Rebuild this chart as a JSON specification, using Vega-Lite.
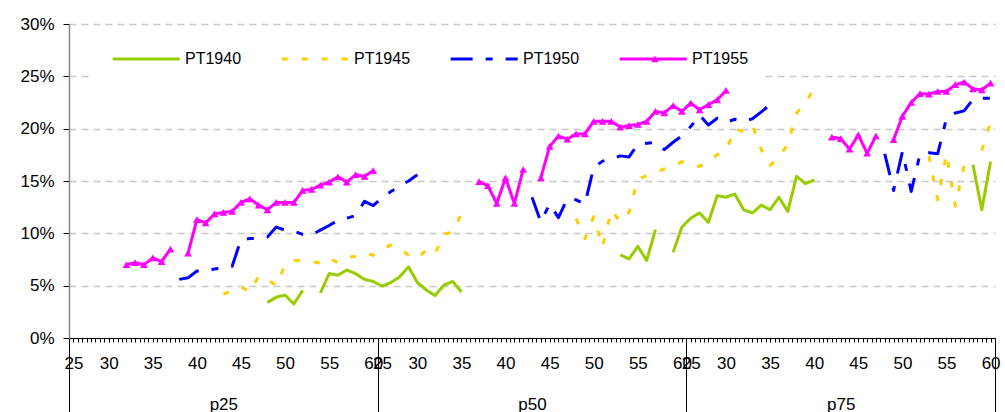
{
 "$schema": "https://vega.github.io/schema/vega-lite/v6.json",
 "width": 926,
 "height": 314,
 "autosize": {"type": "none"},
 "padding": {"left": 69, "top": 24, "right": 10, "bottom": 74},
 "background": "#ffffff",
 "config": {
  "view": {"stroke": null},
  "font": "Liberation Sans",
  "axis": {"labelFont": "Liberation Sans", "labelFontSize": 17, "labelColor": "#000000", "title": null},
  "legend": {"labelFont": "Liberation Sans"}
 },
 "data": {"values": [
  {"series":"PT1940","panel":"p25","age":48,"value":3.4},
  {"series":"PT1940","panel":"p25","age":49,"value":3.9},
  {"series":"PT1940","panel":"p25","age":50,"value":4.1},
  {"series":"PT1940","panel":"p25","age":51,"value":3.25},
  {"series":"PT1940","panel":"p25","age":52,"value":4.55},
  {"series":"PT1940","panel":"p25","age":53,"value":null},
  {"series":"PT1940","panel":"p25","age":54,"value":4.3},
  {"series":"PT1940","panel":"p25","age":55,"value":6.15},
  {"series":"PT1940","panel":"p25","age":56,"value":6.0},
  {"series":"PT1940","panel":"p25","age":57,"value":6.5},
  {"series":"PT1940","panel":"p25","age":58,"value":6.15},
  {"series":"PT1940","panel":"p25","age":59,"value":5.6},
  {"series":"PT1940","panel":"p25","age":60,"value":5.4},
  {"series":"PT1940","panel":"p50","age":26,"value":4.95},
  {"series":"PT1940","panel":"p50","age":27,"value":5.3},
  {"series":"PT1940","panel":"p50","age":28,"value":5.85},
  {"series":"PT1940","panel":"p50","age":29,"value":6.8},
  {"series":"PT1940","panel":"p50","age":30,"value":5.3},
  {"series":"PT1940","panel":"p50","age":31,"value":4.6},
  {"series":"PT1940","panel":"p50","age":32,"value":4.05},
  {"series":"PT1940","panel":"p50","age":33,"value":5.05},
  {"series":"PT1940","panel":"p50","age":34,"value":5.4},
  {"series":"PT1940","panel":"p50","age":35,"value":4.4},
  {"series":"PT1940","panel":"p50","age":36,"value":null},
  {"series":"PT1940","panel":"p50","age":53,"value":7.95},
  {"series":"PT1940","panel":"p50","age":54,"value":7.55},
  {"series":"PT1940","panel":"p50","age":55,"value":8.75},
  {"series":"PT1940","panel":"p50","age":56,"value":7.4},
  {"series":"PT1940","panel":"p50","age":57,"value":10.35},
  {"series":"PT1940","panel":"p50","age":58,"value":null},
  {"series":"PT1940","panel":"p50","age":59,"value":8.2},
  {"series":"PT1940","panel":"p50","age":60,"value":10.6},
  {"series":"PT1940","panel":"p75","age":26,"value":11.45},
  {"series":"PT1940","panel":"p75","age":27,"value":11.95},
  {"series":"PT1940","panel":"p75","age":28,"value":11.05},
  {"series":"PT1940","panel":"p75","age":29,"value":13.6},
  {"series":"PT1940","panel":"p75","age":30,"value":13.45},
  {"series":"PT1940","panel":"p75","age":31,"value":13.75},
  {"series":"PT1940","panel":"p75","age":32,"value":12.25},
  {"series":"PT1940","panel":"p75","age":33,"value":11.95},
  {"series":"PT1940","panel":"p75","age":34,"value":12.7},
  {"series":"PT1940","panel":"p75","age":35,"value":12.25},
  {"series":"PT1940","panel":"p75","age":36,"value":13.45},
  {"series":"PT1940","panel":"p75","age":37,"value":12.1},
  {"series":"PT1940","panel":"p75","age":38,"value":15.45},
  {"series":"PT1940","panel":"p75","age":39,"value":14.75},
  {"series":"PT1940","panel":"p75","age":40,"value":15.1},
  {"series":"PT1940","panel":"p75","age":41,"value":null},
  {"series":"PT1940","panel":"p75","age":58,"value":16.55},
  {"series":"PT1940","panel":"p75","age":59,"value":12.25},
  {"series":"PT1940","panel":"p75","age":60,"value":16.85},

  {"series":"PT1945","panel":"p25","age":43,"value":4.2},
  {"series":"PT1945","panel":"p25","age":44,"value":4.5},
  {"series":"PT1945","panel":"p25","age":45,"value":4.9},
  {"series":"PT1945","panel":"p25","age":46,"value":4.4},
  {"series":"PT1945","panel":"p25","age":47,"value":5.9},
  {"series":"PT1945","panel":"p25","age":48,"value":5.6},
  {"series":"PT1945","panel":"p25","age":49,"value":5.0},
  {"series":"PT1945","panel":"p25","age":50,"value":7.0},
  {"series":"PT1945","panel":"p25","age":51,"value":7.4},
  {"series":"PT1945","panel":"p25","age":52,"value":7.4},
  {"series":"PT1945","panel":"p25","age":53,"value":7.3},
  {"series":"PT1945","panel":"p25","age":54,"value":7.15},
  {"series":"PT1945","panel":"p25","age":55,"value":7.6},
  {"series":"PT1945","panel":"p25","age":56,"value":7.2},
  {"series":"PT1945","panel":"p25","age":57,"value":7.7},
  {"series":"PT1945","panel":"p25","age":58,"value":7.8},
  {"series":"PT1945","panel":"p25","age":59,"value":8.15},
  {"series":"PT1945","panel":"p25","age":60,"value":7.9},
  {"series":"PT1945","panel":"p50","age":26,"value":8.45},
  {"series":"PT1945","panel":"p50","age":27,"value":8.9},
  {"series":"PT1945","panel":"p50","age":28,"value":8.6},
  {"series":"PT1945","panel":"p50","age":29,"value":7.9},
  {"series":"PT1945","panel":"p50","age":30,"value":7.6},
  {"series":"PT1945","panel":"p50","age":31,"value":8.4},
  {"series":"PT1945","panel":"p50","age":32,"value":8.0},
  {"series":"PT1945","panel":"p50","age":33,"value":9.95},
  {"series":"PT1945","panel":"p50","age":34,"value":10.1},
  {"series":"PT1945","panel":"p50","age":35,"value":11.9},
  {"series":"PT1945","panel":"p50","age":36,"value":null},
  {"series":"PT1945","panel":"p50","age":48,"value":11.4},
  {"series":"PT1945","panel":"p50","age":49,"value":9.5},
  {"series":"PT1945","panel":"p50","age":50,"value":11.6},
  {"series":"PT1945","panel":"p50","age":51,"value":8.7},
  {"series":"PT1945","panel":"p50","age":52,"value":12.2},
  {"series":"PT1945","panel":"p50","age":53,"value":11.1},
  {"series":"PT1945","panel":"p50","age":54,"value":12.0},
  {"series":"PT1945","panel":"p50","age":55,"value":15.2},
  {"series":"PT1945","panel":"p50","age":56,"value":15.5},
  {"series":"PT1945","panel":"p50","age":57,"value":15.8},
  {"series":"PT1945","panel":"p50","age":58,"value":16.15},
  {"series":"PT1945","panel":"p50","age":59,"value":16.4},
  {"series":"PT1945","panel":"p50","age":60,"value":16.85},
  {"series":"PT1945","panel":"p75","age":26,"value":16.5},
  {"series":"PT1945","panel":"p75","age":27,"value":16.4},
  {"series":"PT1945","panel":"p75","age":28,"value":16.9},
  {"series":"PT1945","panel":"p75","age":29,"value":17.5},
  {"series":"PT1945","panel":"p75","age":30,"value":17.9},
  {"series":"PT1945","panel":"p75","age":31,"value":20.0},
  {"series":"PT1945","panel":"p75","age":32,"value":19.7},
  {"series":"PT1945","panel":"p75","age":33,"value":20.3},
  {"series":"PT1945","panel":"p75","age":34,"value":18.0},
  {"series":"PT1945","panel":"p75","age":35,"value":16.5},
  {"series":"PT1945","panel":"p75","age":36,"value":17.3},
  {"series":"PT1945","panel":"p75","age":37,"value":18.5},
  {"series":"PT1945","panel":"p75","age":38,"value":21.5},
  {"series":"PT1945","panel":"p75","age":39,"value":22.4},
  {"series":"PT1945","panel":"p75","age":40,"value":23.9},
  {"series":"PT1945","panel":"p75","age":41,"value":null},
  {"series":"PT1945","panel":"p75","age":53,"value":17.4},
  {"series":"PT1945","panel":"p75","age":54,"value":13.2},
  {"series":"PT1945","panel":"p75","age":55,"value":17.6},
  {"series":"PT1945","panel":"p75","age":56,"value":12.6},
  {"series":"PT1945","panel":"p75","age":57,"value":16.5},
  {"series":"PT1945","panel":"p75","age":58,"value":null},
  {"series":"PT1945","panel":"p75","age":59,"value":17.9},
  {"series":"PT1945","panel":"p75","age":60,"value":20.6},

  {"series":"PT1950","panel":"p25","age":38,"value":5.6},
  {"series":"PT1950","panel":"p25","age":39,"value":5.75},
  {"series":"PT1950","panel":"p25","age":40,"value":6.4},
  {"series":"PT1950","panel":"p25","age":41,"value":6.35},
  {"series":"PT1950","panel":"p25","age":42,"value":6.6},
  {"series":"PT1950","panel":"p25","age":43,"value":6.7},
  {"series":"PT1950","panel":"p25","age":44,"value":6.85},
  {"series":"PT1950","panel":"p25","age":45,"value":9.4},
  {"series":"PT1950","panel":"p25","age":46,"value":9.5},
  {"series":"PT1950","panel":"p25","age":47,"value":9.5},
  {"series":"PT1950","panel":"p25","age":48,"value":9.65},
  {"series":"PT1950","panel":"p25","age":49,"value":10.6},
  {"series":"PT1950","panel":"p25","age":50,"value":10.3},
  {"series":"PT1950","panel":"p25","age":51,"value":10.2},
  {"series":"PT1950","panel":"p25","age":52,"value":9.9},
  {"series":"PT1950","panel":"p25","age":53,"value":9.85},
  {"series":"PT1950","panel":"p25","age":54,"value":10.3},
  {"series":"PT1950","panel":"p25","age":55,"value":10.75},
  {"series":"PT1950","panel":"p25","age":56,"value":11.25},
  {"series":"PT1950","panel":"p25","age":57,"value":11.45},
  {"series":"PT1950","panel":"p25","age":58,"value":11.7},
  {"series":"PT1950","panel":"p25","age":59,"value":13.05},
  {"series":"PT1950","panel":"p25","age":60,"value":12.65},
  {"series":"PT1950","panel":"p50","age":26,"value":13.4},
  {"series":"PT1950","panel":"p50","age":27,"value":14.0},
  {"series":"PT1950","panel":"p50","age":28,"value":14.5},
  {"series":"PT1950","panel":"p50","age":29,"value":15.0},
  {"series":"PT1950","panel":"p50","age":30,"value":15.6},
  {"series":"PT1950","panel":"p50","age":31,"value":null},
  {"series":"PT1950","panel":"p50","age":43,"value":13.45},
  {"series":"PT1950","panel":"p50","age":44,"value":11.1},
  {"series":"PT1950","panel":"p50","age":45,"value":12.8},
  {"series":"PT1950","panel":"p50","age":46,"value":11.5},
  {"series":"PT1950","panel":"p50","age":47,"value":13.3},
  {"series":"PT1950","panel":"p50","age":48,"value":13.2},
  {"series":"PT1950","panel":"p50","age":49,"value":12.8},
  {"series":"PT1950","panel":"p50","age":50,"value":16.3},
  {"series":"PT1950","panel":"p50","age":51,"value":16.9},
  {"series":"PT1950","panel":"p50","age":52,"value":17.1},
  {"series":"PT1950","panel":"p50","age":53,"value":17.4},
  {"series":"PT1950","panel":"p50","age":54,"value":17.3},
  {"series":"PT1950","panel":"p50","age":55,"value":18.5},
  {"series":"PT1950","panel":"p50","age":56,"value":18.6},
  {"series":"PT1950","panel":"p50","age":57,"value":18.7},
  {"series":"PT1950","panel":"p50","age":58,"value":18.0},
  {"series":"PT1950","panel":"p50","age":59,"value":18.7},
  {"series":"PT1950","panel":"p50","age":60,"value":19.3},
  {"series":"PT1950","panel":"p75","age":26,"value":20.2},
  {"series":"PT1950","panel":"p75","age":27,"value":21.3},
  {"series":"PT1950","panel":"p75","age":28,"value":20.35},
  {"series":"PT1950","panel":"p75","age":29,"value":21.0},
  {"series":"PT1950","panel":"p75","age":30,"value":20.6},
  {"series":"PT1950","panel":"p75","age":31,"value":20.9},
  {"series":"PT1950","panel":"p75","age":32,"value":20.7},
  {"series":"PT1950","panel":"p75","age":33,"value":20.95},
  {"series":"PT1950","panel":"p75","age":34,"value":21.6},
  {"series":"PT1950","panel":"p75","age":35,"value":22.3},
  {"series":"PT1950","panel":"p75","age":36,"value":null},
  {"series":"PT1950","panel":"p75","age":48,"value":17.6},
  {"series":"PT1950","panel":"p75","age":49,"value":14.1},
  {"series":"PT1950","panel":"p75","age":50,"value":17.8},
  {"series":"PT1950","panel":"p75","age":51,"value":14.0},
  {"series":"PT1950","panel":"p75","age":52,"value":17.6},
  {"series":"PT1950","panel":"p75","age":53,"value":17.7},
  {"series":"PT1950","panel":"p75","age":54,"value":17.6},
  {"series":"PT1950","panel":"p75","age":55,"value":21.0},
  {"series":"PT1950","panel":"p75","age":56,"value":21.5},
  {"series":"PT1950","panel":"p75","age":57,"value":21.7},
  {"series":"PT1950","panel":"p75","age":58,"value":22.8},
  {"series":"PT1950","panel":"p75","age":59,"value":22.9},
  {"series":"PT1950","panel":"p75","age":60,"value":22.9},

  {"series":"PT1955","panel":"p25","age":32,"value":7.0},
  {"series":"PT1955","panel":"p25","age":33,"value":7.2},
  {"series":"PT1955","panel":"p25","age":34,"value":7.0},
  {"series":"PT1955","panel":"p25","age":35,"value":7.65},
  {"series":"PT1955","panel":"p25","age":36,"value":7.3},
  {"series":"PT1955","panel":"p25","age":37,"value":8.5},
  {"series":"PT1955","panel":"p25","age":38,"value":null},
  {"series":"PT1955","panel":"p25","age":39,"value":8.1},
  {"series":"PT1955","panel":"p25","age":40,"value":11.3},
  {"series":"PT1955","panel":"p25","age":41,"value":11.0},
  {"series":"PT1955","panel":"p25","age":42,"value":11.85},
  {"series":"PT1955","panel":"p25","age":43,"value":12.0},
  {"series":"PT1955","panel":"p25","age":44,"value":12.1},
  {"series":"PT1955","panel":"p25","age":45,"value":12.95},
  {"series":"PT1955","panel":"p25","age":46,"value":13.3},
  {"series":"PT1955","panel":"p25","age":47,"value":12.7},
  {"series":"PT1955","panel":"p25","age":48,"value":12.25},
  {"series":"PT1955","panel":"p25","age":49,"value":12.95},
  {"series":"PT1955","panel":"p25","age":50,"value":12.95},
  {"series":"PT1955","panel":"p25","age":51,"value":12.95},
  {"series":"PT1955","panel":"p25","age":52,"value":14.1},
  {"series":"PT1955","panel":"p25","age":53,"value":14.2},
  {"series":"PT1955","panel":"p25","age":54,"value":14.6},
  {"series":"PT1955","panel":"p25","age":55,"value":14.9},
  {"series":"PT1955","panel":"p25","age":56,"value":15.4},
  {"series":"PT1955","panel":"p25","age":57,"value":14.9},
  {"series":"PT1955","panel":"p25","age":58,"value":15.6},
  {"series":"PT1955","panel":"p25","age":59,"value":15.45},
  {"series":"PT1955","panel":"p25","age":60,"value":16.0},
  {"series":"PT1955","panel":"p50","age":26,"value":null},
  {"series":"PT1955","panel":"p50","age":37,"value":14.95},
  {"series":"PT1955","panel":"p50","age":38,"value":14.55},
  {"series":"PT1955","panel":"p50","age":39,"value":12.85},
  {"series":"PT1955","panel":"p50","age":40,"value":15.3},
  {"series":"PT1955","panel":"p50","age":41,"value":12.85},
  {"series":"PT1955","panel":"p50","age":42,"value":16.1},
  {"series":"PT1955","panel":"p50","age":43,"value":null},
  {"series":"PT1955","panel":"p50","age":44,"value":15.3},
  {"series":"PT1955","panel":"p50","age":45,"value":18.3},
  {"series":"PT1955","panel":"p50","age":46,"value":19.3},
  {"series":"PT1955","panel":"p50","age":47,"value":19.0},
  {"series":"PT1955","panel":"p50","age":48,"value":19.5},
  {"series":"PT1955","panel":"p50","age":49,"value":19.5},
  {"series":"PT1955","panel":"p50","age":50,"value":20.7},
  {"series":"PT1955","panel":"p50","age":51,"value":20.7},
  {"series":"PT1955","panel":"p50","age":52,"value":20.7},
  {"series":"PT1955","panel":"p50","age":53,"value":20.15},
  {"series":"PT1955","panel":"p50","age":54,"value":20.3},
  {"series":"PT1955","panel":"p50","age":55,"value":20.4},
  {"series":"PT1955","panel":"p50","age":56,"value":20.7},
  {"series":"PT1955","panel":"p50","age":57,"value":21.65},
  {"series":"PT1955","panel":"p50","age":58,"value":21.5},
  {"series":"PT1955","panel":"p50","age":59,"value":22.2},
  {"series":"PT1955","panel":"p50","age":60,"value":21.65},
  {"series":"PT1955","panel":"p75","age":26,"value":22.45},
  {"series":"PT1955","panel":"p75","age":27,"value":21.8},
  {"series":"PT1955","panel":"p75","age":28,"value":22.3},
  {"series":"PT1955","panel":"p75","age":29,"value":22.75},
  {"series":"PT1955","panel":"p75","age":30,"value":23.65},
  {"series":"PT1955","panel":"p75","age":31,"value":null},
  {"series":"PT1955","panel":"p75","age":42,"value":19.2},
  {"series":"PT1955","panel":"p75","age":43,"value":19.05},
  {"series":"PT1955","panel":"p75","age":44,"value":18.05},
  {"series":"PT1955","panel":"p75","age":45,"value":19.4},
  {"series":"PT1955","panel":"p75","age":46,"value":17.65},
  {"series":"PT1955","panel":"p75","age":47,"value":19.3},
  {"series":"PT1955","panel":"p75","age":48,"value":null},
  {"series":"PT1955","panel":"p75","age":49,"value":18.95},
  {"series":"PT1955","panel":"p75","age":50,"value":21.2},
  {"series":"PT1955","panel":"p75","age":51,"value":22.5},
  {"series":"PT1955","panel":"p75","age":52,"value":23.35},
  {"series":"PT1955","panel":"p75","age":53,"value":23.3},
  {"series":"PT1955","panel":"p75","age":54,"value":23.55},
  {"series":"PT1955","panel":"p75","age":55,"value":23.55},
  {"series":"PT1955","panel":"p75","age":56,"value":24.2},
  {"series":"PT1955","panel":"p75","age":57,"value":24.45},
  {"series":"PT1955","panel":"p75","age":58,"value":23.8},
  {"series":"PT1955","panel":"p75","age":59,"value":23.7},
  {"series":"PT1955","panel":"p75","age":60,"value":24.35}
 ]},
 "transform": [
  {"calculate": "indexof(['p25','p50','p75'], datum.panel) * 35 + datum.age - 26", "as": "pos"}
 ],
 "encoding": {
  "y": {
   "field": "value", "type": "quantitative",
   "scale": {"domain": [0, 30], "nice": false},
   "axis": {
    "title": null, "values": [0, 5, 10, 15, 20, 25, 30],
    "labelExpr": "datum.value + '%'",
    "grid": true, "gridColor": "#c8c8c8", "gridDash": [7, 5], "gridWidth": 1.5,
    "domainColor": "#868686", "domainWidth": 1.5,
    "tickColor": "#000000", "tickSize": 6, "tickWidth": 1,
    "labelPadding": 9, "labelFontSize": 17
   }
  }
 },
 "resolve": {"scale": {"x": "shared"}, "axis": {"x": "independent"}},
 "layer": [
  {
   "mark": {"type": "line", "strokeWidth": 3, "strokeCap": "butt", "strokeJoin": "round", "invalid": "break-paths-show-domains"},
   "encoding": {
    "x": {
     "field": "pos", "type": "quantitative",
     "scale": {"domain": [-0.5, 104.5], "nice": false, "zero": false},
     "axis": {
      "orient": "bottom",
      "title": null,
      "values": [-0.5,0,0.5,1,1.5,2,2.5,3,3.5,4,4.5,5,5.5,6,6.5,7,7.5,8,8.5,9,9.5,10,10.5,11,11.5,12,12.5,13,13.5,14,14.5,15,15.5,16,16.5,17,17.5,18,18.5,19,19.5,20,20.5,21,21.5,22,22.5,23,23.5,24,24.5,25,25.5,26,26.5,27,27.5,28,28.5,29,29.5,30,30.5,31,31.5,32,32.5,33,33.5,34,34.5,35,35.5,36,36.5,37,37.5,38,38.5,39,39.5,40,40.5,41,41.5,42,42.5,43,43.5,44,44.5,45,45.5,46,46.5,47,47.5,48,48.5,49,49.5,50,50.5,51,51.5,52,52.5,53,53.5,54,54.5,55,55.5,56,56.5,57,57.5,58,58.5,59,59.5,60,60.5,61,61.5,62,62.5,63,63.5,64,64.5,65,65.5,66,66.5,67,67.5,68,68.5,69,69.5,70,70.5,71,71.5,72,72.5,73,73.5,74,74.5,75,75.5,76,76.5,77,77.5,78,78.5,79,79.5,80,80.5,81,81.5,82,82.5,83,83.5,84,84.5,85,85.5,86,86.5,87,87.5,88,88.5,89,89.5,90,90.5,91,91.5,92,92.5,93,93.5,94,94.5,95,95.5,96,96.5,97,97.5,98,98.5,99,99.5,100,100.5,101,101.5,102,102.5,103,103.5,104,104.5],
      "tickSize": 4, "tickColor": "#000000", "tickWidth": 1,
      "domainColor": "#000000", "domainWidth": 1.2, "grid": false, "labelAngle": 0,
      "labelOverlap": false, "labelFlush": false, "labelBound": false, "labelPadding": 13,
      "labelExpr": "(datum.value < 0 || datum.value % 1 != 0) ? '' : (datum.value % 35 == 0 ? '25' : ((datum.value % 35) % 5 == 4 ? '' + (26 + datum.value % 35) : ''))"
     }
    },
    "stroke": {
     "field": "series", "type": "nominal",
     "scale": {"domain": ["PT1940", "PT1945", "PT1950", "PT1955"], "range": ["#99CC00", "#FFCC00", "#0000FF", "#FF00FF"]},
     "legend": {"title": null, "orient": "none", "legendX": 23, "legendY": 11, "direction": "horizontal", "columns": 4,
      "symbolType": "M-1,0H19", "symbolSize": 45, "symbolStrokeWidth": 3, "labelFontSize": 16, "labelColor": "#000000",
      "labelOffset": 61, "columnPadding": 33, "padding": 16, "fillColor": "#ffffff"}
    },
    "strokeDash": {
     "field": "series", "type": "nominal",
     "scale": {"domain": ["PT1940", "PT1945", "PT1950", "PT1955"], "range": [[1, 0], [6, 14], [22, 13, 7, 13], [1, 0]]},
     "legend": {"title": null, "orient": "none", "legendX": 23, "legendY": 11, "direction": "horizontal", "columns": 4,
      "symbolType": "M-1,0H19", "symbolSize": 45, "symbolStrokeWidth": 3, "labelFontSize": 16, "labelColor": "#000000",
      "labelOffset": 61, "columnPadding": 33, "padding": 16, "fillColor": "#ffffff"}
    }
   }
  },
  {
   "transform": [{"filter": "datum.series == 'PT1955' && isValid(datum.value)"}],
   "mark": {"type": "point", "shape": "triangle-up", "filled": true, "size": 60, "opacity": 1},
   "encoding": {
    "x": {
     "field": "pos", "type": "quantitative",
     "scale": {"domain": [-0.5, 104.5], "nice": false, "zero": false},
     "axis": {
      "orient": "bottom",
      "title": null, "values": [-0.5, 17, 34.5, 52, 69.5, 87, 104.5], "tickSize": 74, "tickWidth": 1,
      "tickColor": {"condition": {"test": "datum.value % 1 != 0", "value": "#000000"}, "value": "rgba(0,0,0,0)"},
      "domain": false, "grid": false, "labelAngle": 0, "labelOverlap": false, "labelFlush": false, "labelBound": false,
      "labelPadding": -16,
      "labelExpr": "datum.value == 17 ? 'p25' : (datum.value == 52 ? 'p50' : (datum.value == 87 ? 'p75' : ''))"
     }
    },
    "fill": {
     "field": "series", "type": "nominal",
     "scale": {"domain": ["PT1955"], "range": ["#FF00FF"]},
     "legend": {"title": null, "orient": "none", "legendX": 581, "legendY": 30, "symbolType": "triangle-up", "symbolSize": 60,
      "symbolStrokeWidth": 0, "labelExpr": "''", "padding": 0, "zindex": 1}
    }
   }
  }
 ]
}
